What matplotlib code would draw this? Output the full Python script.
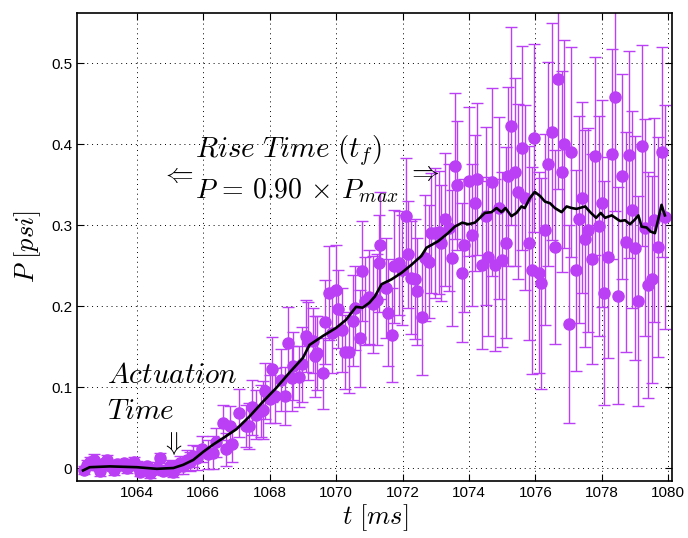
import matplotlib
matplotlib.use("Agg")
import matplotlib.pyplot as plt

plt.rcParams['mathtext.fontset'] = 'cm'
plt.rcParams['font.family'] = ['Liberation Sans', 'DejaVu Sans']

# measured pressure samples (t in ms, P in psi, error in psi)
t = [1062.4, 1062.5, 1062.6, 1062.7, 1062.8, 1062.9, 1063.0, 1063.1, 1063.2, 1063.3,
     1063.4, 1063.5, 1063.6, 1063.7, 1063.8, 1063.9, 1064.0, 1064.1, 1064.2, 1064.3,
     1064.4, 1064.5, 1064.6, 1064.7, 1064.8, 1064.9, 1065.0, 1065.1, 1065.2, 1065.3,
     1065.4, 1065.5, 1065.6, 1065.7, 1065.8,
     1065.95, 1066.14, 1066.3, 1066.38, 1066.58, 1066.67, 1066.8, 1066.86, 1067.07, 1067.3,
     1067.37, 1067.47, 1067.58, 1067.74, 1067.8, 1067.86, 1068.0, 1068.07, 1068.15, 1068.34,
     1068.46,
     1068.56, 1068.66, 1068.71, 1068.88, 1068.96, 1069.09, 1069.16, 1069.31, 1069.37, 1069.44,
     1069.61, 1069.67, 1069.8, 1069.87, 1070.0, 1070.07, 1070.17, 1070.27, 1070.39, 1070.52,
     1070.57, 1070.72, 1070.79, 1070.87, 1071.0, 1071.12, 1071.22, 1071.32,
     1071.29, 1071.49, 1071.57, 1071.69, 1071.75, 1071.89, 1071.97, 1072.1, 1072.17, 1072.25,
     1072.37, 1072.45, 1072.6, 1072.67, 1072.8, 1072.87, 1072.97, 1073.1, 1073.17, 1073.29,
     1073.39, 1073.5, 1073.57, 1073.65, 1073.8, 1073.86, 1074.0, 1074.08, 1074.18, 1074.25,
     1074.4, 1074.5, 1074.58, 1074.7, 1074.78, 1074.9, 1075.0, 1075.11, 1075.18, 1075.28,
     1075.4, 1075.48, 1075.6, 1075.68, 1075.8, 1075.9, 1075.96, 1076.1, 1076.18, 1076.3,
     1076.38, 1076.5, 1076.58, 1076.68, 1076.8, 1076.86, 1077.0, 1077.08,
     1077.22, 1077.3, 1077.4, 1077.5, 1077.6, 1077.72, 1077.8, 1077.93, 1078.0, 1078.08,
     1078.2, 1078.3, 1078.4, 1078.5, 1078.62, 1078.72, 1078.83, 1078.9, 1079.0, 1079.1,
     1079.2, 1079.3, 1079.4, 1079.5, 1079.58, 1079.68, 1079.8, 1079.89]

p = [-0.002, 0.004, 0.008, 0.010, 0.002, -0.004, 0.006, 0.010, 0.003, -0.002,
     0.005, 0.004, 0.006, 0.000, 0.004, 0.008, 0.003, -0.005, -0.003, 0.002,
     -0.006, -0.002, 0.000, 0.012, -0.004, -0.002, 0.003, -0.005, 0.001, 0.006,
     0.002, 0.010, 0.008, 0.015, 0.012,
     0.023, 0.017, 0.019, 0.032, 0.056, 0.023, 0.052, 0.030, 0.068, 0.052,
     0.052, 0.075, 0.066, 0.070, 0.072, 0.095, 0.085, 0.122, 0.089, 0.109,
     0.089,
     0.154, 0.111, 0.126, 0.113, 0.128, 0.163, 0.157, 0.157, 0.138, 0.142,
     0.117, 0.180, 0.216, 0.167, 0.220, 0.196, 0.170, 0.143, 0.143, 0.182,
     0.198, 0.160, 0.243, 0.206, 0.211, 0.202, 0.208, 0.275,
     0.253, 0.222, 0.192, 0.164, 0.249, 0.253, 0.245, 0.311, 0.264, 0.235,
     0.233, 0.218, 0.187, 0.259, 0.255, 0.290, 0.290, 0.291, 0.278, 0.307,
     0.297, 0.259, 0.373, 0.349, 0.241, 0.275, 0.354, 0.288, 0.327, 0.357,
     0.251, 0.311, 0.261, 0.353, 0.251, 0.321, 0.257, 0.278, 0.360, 0.422,
     0.366, 0.341, 0.395, 0.334, 0.278, 0.244, 0.408, 0.241, 0.228, 0.294,
     0.375, 0.415, 0.273, 0.480, 0.366, 0.400, 0.178, 0.390,
     0.244, 0.307, 0.334, 0.283, 0.294, 0.258, 0.385, 0.299, 0.327, 0.216,
     0.260, 0.388, 0.458, 0.213, 0.360, 0.279, 0.387, 0.319, 0.272, 0.206,
     0.398, 0.297, 0.226, 0.233, 0.306, 0.273, 0.390, 0.310]

err = [0.005, 0.006, 0.005, 0.007, 0.005, 0.006, 0.005, 0.006, 0.005, 0.007,
       0.005, 0.006, 0.005, 0.006, 0.007, 0.005, 0.006, 0.005, 0.006, 0.005,
       0.006, 0.005, 0.007, 0.006, 0.005, 0.006, 0.007, 0.006, 0.008, 0.009,
       0.010, 0.012, 0.012, 0.014, 0.015,
       0.016, 0.018, 0.020, 0.018, 0.022, 0.020, 0.024, 0.022, 0.030, 0.026,
       0.028, 0.034, 0.030, 0.032, 0.036, 0.035, 0.030, 0.040, 0.034, 0.038,
       0.036,
       0.045, 0.040, 0.042, 0.038, 0.046, 0.044, 0.048, 0.040, 0.050, 0.046,
       0.044, 0.052, 0.058, 0.050, 0.055, 0.048, 0.052, 0.046, 0.050, 0.056,
       0.052, 0.060, 0.062, 0.054, 0.058, 0.060, 0.056, 0.066,
       0.060, 0.062, 0.066, 0.058, 0.070, 0.064, 0.068, 0.072, 0.066, 0.070,
       0.074, 0.066, 0.072, 0.078, 0.070, 0.074, 0.080, 0.076, 0.072, 0.082,
       0.078, 0.084, 0.090, 0.080, 0.086, 0.082, 0.092, 0.088, 0.084, 0.094,
       0.104, 0.110, 0.098, 0.116, 0.106, 0.112, 0.108, 0.118, 0.110, 0.122,
       0.116, 0.108, 0.126, 0.114, 0.120, 0.128, 0.116, 0.124, 0.130, 0.118,
       0.126, 0.134, 0.120, 0.136, 0.124, 0.128, 0.122, 0.130,
       0.124, 0.128, 0.118, 0.134, 0.126, 0.130, 0.122, 0.136, 0.128, 0.138,
       0.124, 0.130, 0.140, 0.134, 0.126, 0.136, 0.128, 0.122, 0.138, 0.130,
       0.124, 0.134, 0.140, 0.128, 0.126, 0.136, 0.130, 0.138]

# smoothed trend (black line)
t_avg = [1062.38, 1062.58, 1063.19, 1064.0, 1064.3, 1064.6, 1065.1, 1065.4, 1065.7, 1066.0,
         1066.3, 1066.6, 1067.0, 1067.4, 1067.8, 1068.2, 1068.6, 1069.0, 1069.2, 1069.6,
         1070.0, 1070.3, 1070.6, 1070.8, 1071.0, 1071.17, 1071.37, 1071.67, 1071.97, 1072.27,
         1072.57, 1072.72, 1073.07, 1073.37, 1073.57, 1073.8, 1073.98, 1074.18, 1074.48, 1074.68,
         1074.83, 1074.98, 1075.1, 1075.28, 1075.43, 1075.58, 1075.68, 1075.83, 1075.98, 1076.14,
         1076.29, 1076.44, 1076.59, 1076.79, 1076.94, 1077.1, 1077.24, 1077.5, 1077.65, 1077.83,
         1077.97, 1078.1, 1078.3, 1078.55, 1078.7, 1078.85, 1079.0, 1079.1, 1079.2, 1079.35,
         1079.47, 1079.6, 1079.7, 1079.8, 1079.9]
p_avg = [-0.003, 0.001, 0.002, 0.001, 0.000, -0.001, 0.000, 0.004, 0.010, 0.020,
         0.029, 0.037, 0.048, 0.064, 0.082, 0.099, 0.118, 0.136, 0.152, 0.163,
         0.173, 0.183, 0.199, 0.198, 0.204, 0.212, 0.227, 0.233, 0.241, 0.251,
         0.262, 0.272, 0.280, 0.290, 0.298, 0.303, 0.301, 0.303, 0.315, 0.316,
         0.321, 0.316, 0.321, 0.311, 0.315, 0.323, 0.321, 0.333, 0.341, 0.336,
         0.329, 0.327, 0.321, 0.316, 0.323, 0.321, 0.320, 0.323, 0.316, 0.309,
         0.315, 0.309, 0.312, 0.305, 0.306, 0.301, 0.307, 0.312, 0.298, 0.297,
         0.292, 0.290, 0.307, 0.325, 0.312]

purple = '#bb3ff5'

fig = plt.figure(figsize=(6.88, 5.38), dpi=100)
ax = fig.add_axes([0.112, 0.106, 0.865, 0.870])

ax.errorbar(t, p, yerr=err, fmt='o', color=purple, ecolor=purple, markersize=8,
            elinewidth=1.0, capsize=4.5, capthick=1.0, zorder=2)
ax.plot(t_avg, p_avg, color='black', linewidth=1.9, zorder=3)

ax.set_xlim(1062.2, 1080.12)
ax.set_ylim(-0.016, 0.562)
ax.set_xticks([1064, 1066, 1068, 1070, 1072, 1074, 1076, 1078, 1080])
ax.set_yticks([0, 0.1, 0.2, 0.3, 0.4, 0.5])
ax.set_yticklabels(['0', '0.1', '0.2', '0.3', '0.4', '0.5'])
ax.tick_params(direction='in', top=True, right=True, labelsize=11, length=5)
ax.grid(True, color='black', linestyle=(0, (1, 4)), linewidth=0.7)
for s in ax.spines.values():
    s.set_linewidth(1.2)

ax.set_xlabel(r'$t\ [ms]$', fontsize=19, labelpad=2)
ax.set_ylabel(r'$P\ [psi]$', fontsize=19, labelpad=6)

# annotations
ax.text(1065.75, 0.392, r'$Rise\ Time\ (t_f)$', fontsize=21, va='center', ha='left')
ax.text(1065.75, 0.342, r'$P\,=\,0.90\,\times\,P_{max}$', fontsize=20, va='center', ha='left')
ax.text(1065.23, 0.362, r'$\Leftarrow$', fontsize=20, va='center', ha='center')
ax.text(1072.62, 0.364, r'$\Rightarrow$', fontsize=20, va='center', ha='center')
ax.text(1063.1, 0.115, r'$Actuation$', fontsize=21, va='center', ha='left')
ax.text(1063.1, 0.071, r'$Time$', fontsize=21, va='center', ha='left')
ax.text(1065.05, 0.030, r'$\Downarrow$', fontsize=19, va='center', ha='center')

fig.savefig('out.png', dpi=100)
